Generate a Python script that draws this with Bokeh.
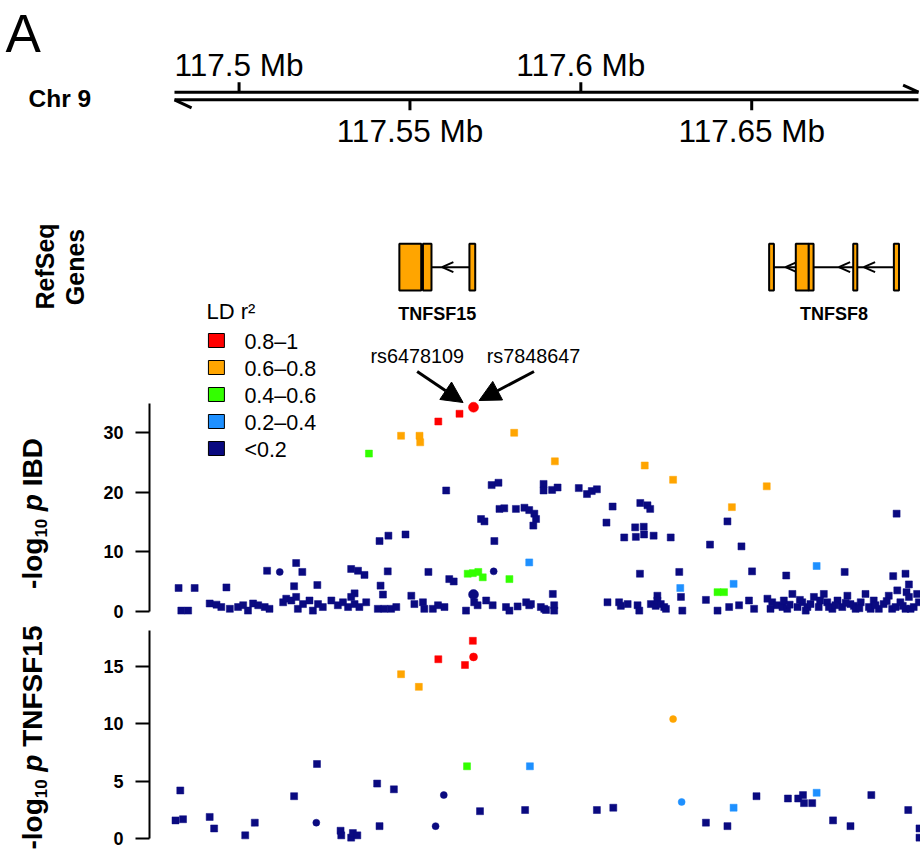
import numpy as np
from bokeh.plotting import figure
from bokeh.models import Range1d, FixedTicker, Arrow, NormalHead
from bokeh.layouts import row, column
from bokeh.core.properties import value
from bokeh.embed import file_html
from bokeh.resources import INLINE

FONT = "Liberation Sans"
K = 0.30      # baseline correction (fraction of font size)

# ---------------- data ----------------
chr_name = "Chr 9"
region_start, region_end = 117.4811, 117.6988
chr_ticks = [117.50, 117.55, 117.60, 117.65]
chr_tick_labels = ["117.5 Mb", "117.55 Mb", "117.6 Mb", "117.65 Mb"]

genes = ["TNFSF15", "TNFSF8"]
gene_start = [117.5469, 117.6551]
gene_end = [117.5691, 117.6931]
exons_TNFSF15 = [(117.5469, 117.5533), (117.5538, 117.5563), (117.5674, 117.5691)]
exons_TNFSF8 = [(117.6551, 117.6565), (117.6629, 117.6667), (117.6667, 117.6681),
                (117.6797, 117.6809), (117.6916, 117.6931)]
strand_marks_TNFSF15 = [117.5594]
strand_marks_TNFSF8 = [117.6599, 117.6755, 117.6828]

ld_labels = ["0.8–1", "0.6–0.8", "0.4–0.6", "0.2–0.4", "<0.2"]
ld_colors = ["#FF0000", "#FFA500", "#33FF00", "#1E90FF", "#0A0A80"]

snp_labels = ["rs6478109", "rs7848647"]
lead_snp_pos = 117.5686

# IBD association (-log10 p), by LD bin: (position Mb, -log10 p)
ibd_ld08 = [(117.5583, 31.9), (117.5645, 33.2), (117.5686, 34.3)]
ibd_ld06 = [(117.5474, 29.5), (117.5528, 29.5), (117.5530, 28.4), (117.5805, 30.0),
            (117.5924, 25.2), (117.6187, 24.5), (117.6270, 22.1), (117.6544, 21.0),
            (117.6442, 17.5)]
ibd_ld04 = [(117.5380, 26.5), (117.5669, 6.3), (117.5684, 6.4), (117.5700, 6.6),
            (117.5713, 5.7), (117.5791, 5.4), (117.6400, 3.2), (117.6419, 3.2)]
ibd_ld02 = [(117.5849, 8.2), (117.6291, 3.9), (117.6690, 7.6), (117.6447, 4.6)]
ibd_ld00 = [
    (117.5606, 20.3), (117.5739, 21.2), (117.5759, 21.6), (117.5891, 21.4), (117.5891, 20.3),
    (117.5916, 20.4), (117.5932, 20.8), (117.5994, 20.7), (117.6018, 19.7), (117.6032, 20.2),
    (117.6047, 20.5), (117.5762, 17.2), (117.5776, 17.3), (117.5810, 17.2), (117.5835, 17.4),
    (117.5849, 17.0), (117.5864, 16.4), (117.5869, 15.5), (117.5861, 14.4), (117.5708, 15.5),
    (117.5718, 15.1), (117.5411, 11.8), (117.5437, 12.7), (117.5487, 12.9), (117.5747, 11.8),
    (117.6093, 17.6), (117.6174, 18.2), (117.6195, 17.8), (117.6203, 17.2), (117.6075, 14.9),
    (117.6159, 14.1), (117.6184, 14.2), (117.6127, 12.4), (117.6161, 12.5), (117.6185, 12.9),
    (117.6213, 12.7), (117.6263, 12.4), (117.6429, 15.1), (117.6378, 11.2), (117.6470, 10.9),
    (117.6924, 16.4),
    (117.5082, 6.8), (117.5119, 6.6), (117.5167, 8.1), (117.5185, 6.6), (117.5328, 7.1),
    (117.5348, 6.8), (117.5367, 6.1), (117.5435, 6.7), (117.5554, 6.6), (117.5615, 5.4),
    (117.5628, 5.0), (117.5745, 6.7), (117.6173, 6.3), (117.6288, 6.6), (117.6501, 6.7),
    (117.6601, 6.0), (117.6772, 6.6), (117.6914, 5.9), (117.6950, 6.3), (117.6960, 4.5),
    (117.4823, 3.9), (117.4870, 3.9), (117.4963, 4.0), (117.5161, 4.2), (117.5229, 4.4),
    (117.5414, 4.3), (117.5421, 2.8), (117.5504, 2.6), (117.5686, 2.8), (117.5338, 3.0),
    (117.5918, 2.9), (117.6293, 2.4), (117.6366, 1.9), (117.6297, 0.1), (117.6224, 2.6),
    (117.6953, 3.2), (117.6984, 2.9), (117.6492, 1.8),
    (117.4831, 0.1), (117.4851, 0.1), (117.4914, 1.3), (117.4934, 1.1), (117.4948, 0.7),
    (117.4973, 0.4), (117.4997, 0.7), (117.5012, 1.0), (117.5026, 0.1), (117.5041, 1.3),
    (117.5056, 1.0), (117.5075, 0.7), (117.5089, 0.4), (117.5129, 1.5), (117.5138, 2.1),
    (117.5153, 1.8), (117.5167, 2.4), (117.5172, 0.4), (117.5187, 1.2), (117.5206, 1.8),
    (117.5216, 0.1), (117.5231, 1.2), (117.5245, 0.7), (117.5270, 1.8), (117.5289, 1.0),
    (117.5304, 1.5), (117.5319, 0.7), (117.5328, 2.4), (117.5338, 1.2), (117.5352, 0.7),
    (117.5372, 1.5), (117.5406, 0.4), (117.5425, 0.4), (117.5445, 0.4), (117.5460, 0.7),
    (117.5513, 1.2), (117.5538, 1.5), (117.5542, 0.4), (117.5567, 0.4), (117.5582, 1.0),
    (117.5601, 0.7), (117.5664, 0.1), (117.5688, 1.5), (117.5698, 1.0), (117.5723, 1.8),
    (117.5742, 1.0), (117.5781, 0.7), (117.5791, 0.1), (117.5815, 0.8), (117.5840, 1.5),
    (117.5849, 1.0), (117.5854, 1.2), (117.5883, 0.7), (117.5893, 0.4), (117.5898, 0.2),
    (117.5922, 1.0), (117.5922, 0.1), (117.6078, 1.5), (117.6112, 1.5), (117.6117, 0.9),
    (117.6137, 1.2), (117.6166, 1.0), (117.6171, 0.1), (117.6205, 1.2), (117.6219, 0.9),
    (117.6224, 1.8), (117.6234, 1.2), (117.6244, 0.7), (117.6249, 0.4),
    (117.6400, 0.1), (117.6434, 0.7), (117.6463, 1.0), (117.6507, 0.4), (117.6546, 2.1),
    (117.6555, 0.4), (117.6560, 1.5), (117.6575, 1.0), (117.6590, 0.7), (117.6594, 1.8),
    (117.6604, 0.4), (117.6619, 2.9), (117.6634, 0.7), (117.6648, 1.5), (117.6658, 0.1),
    (117.6663, 0.7), (117.6672, 1.2), (117.6682, 2.4), (117.6696, 0.7), (117.6711, 2.9),
    (117.6721, 1.5), (117.6726, 0.7), (117.6736, 0.4), (117.6751, 1.8), (117.6765, 0.7),
    (117.6780, 2.6), (117.6789, 1.2), (117.6799, 0.9), (117.6804, 0.4), (117.6819, 1.5),
    (117.6833, 2.9), (117.6843, 0.7), (117.6848, 0.4), (117.6857, 1.8), (117.6872, 0.4),
    (117.6886, 1.2), (117.6901, 2.6), (117.6911, 0.4), (117.6921, 0.7), (117.6926, 3.5),
    (117.6935, 1.5), (117.6950, 0.4), (117.6960, 2.4), (117.6965, 0.4), (117.6974, 0.7),
    (117.6989, 1.5), (117.6611, 1.1), (117.6641, 1.9), (117.6700, 1.8), (117.6745, 1.0),
    (117.6775, 1.4), (117.6815, 0.5), (117.6862, 1.0), (117.6895, 1.7), (117.6942, 0.9),
]

# TNFSF15 expression association (-log10 p)
tnf_ld08 = [(117.5684, 17.2), (117.5583, 15.6), (117.5661, 15.1), (117.5686, 15.8)]
tnf_ld06 = [(117.5474, 14.3), (117.5526, 13.2), (117.6270, 10.4)]
tnf_ld04 = [(117.5667, 6.3)]
tnf_ld02 = [(117.5851, 6.3), (117.6295, 3.2), (117.6447, 2.7), (117.6690, 4.0)]
tnf_ld00 = [
    (117.4828, 4.2), (117.4814, 1.6), (117.4836, 1.7), (117.4914, 1.9), (117.4927, 0.9),
    (117.5018, 0.3), (117.5046, 1.4), (117.5161, 3.7), (117.5228, 6.5), (117.5226, 1.4),
    (117.5297, 0.7), (117.5299, 0.3), (117.5328, 0.1), (117.5333, 0.5), (117.5346, 0.3),
    (117.5404, 4.8), (117.5411, 1.1), (117.5453, 4.3), (117.5575, 1.1), (117.5599, 3.8),
    (117.5705, 2.4), (117.5837, 2.5), (117.6047, 2.5), (117.6095, 2.7), (117.6366, 1.4),
    (117.6429, 1.1), (117.6514, 3.7), (117.6606, 3.5), (117.6636, 3.5), (117.6650, 3.8),
    (117.6653, 3.1), (117.6677, 3.1), (117.6738, 1.6), (117.6789, 1.1), (117.6850, 3.8),
    (117.6958, 2.5), (117.6991, 0.9), (117.6991, 0.1),
]
round_ibd = [117.5686, 117.5119, 117.5745]
round_tnf = [117.5686, 117.5226, 117.5575, 117.5599, 117.6270, 117.6295]

ibd_ticks = [0, 10, 20, 30]
tnf_ticks = [0, 5, 10, 15]

# ---------------- layout geometry (page px) ----------------
LW = 100                      # left label strip width
BL = 48                       # left border of the panels (y-axis room)
PW = 820                      # width of right column
XR0, XR1 = LW + BL, LW + PW   # frame left/right in page px
xr = Range1d(117.47379, 117.69939)
T_H, I_H, N_H = 330, 295, 225


def make_fig(w, h, x_range, y_range, left=0, yaxis=False):
    p = figure(width=w, height=h, x_range=x_range, y_range=y_range,
               output_backend="svg", toolbar_location=None,
               x_axis_location=None, y_axis_location=("left" if yaxis else None),
               min_border_left=left, min_border_right=0,
               min_border_top=0, min_border_bottom=0)
    p.outline_line_color = None
    p.xgrid.visible = False
    p.ygrid.visible = False
    p.background_fill_color = "white"
    p.border_fill_color = "white"
    return p


def style_axis(p, ticks, bounds):
    ax = p.yaxis[0]
    ax.ticker = FixedTicker(ticks=ticks)
    ax.bounds = bounds
    ax.major_tick_out = 14
    ax.major_tick_in = 0
    ax.minor_tick_out = 0
    ax.minor_tick_in = 0
    ax.axis_line_width = 2
    ax.major_tick_line_width = 2
    ax.axis_line_color = "black"
    ax.major_tick_line_color = "black"
    ax.major_label_text_font = FONT
    ax.major_label_text_font_style = "bold"
    ax.major_label_text_font_size = "18px"
    ax.major_label_text_color = "black"
    ax.major_label_standoff = 12


def texts(p, xs, ys, ts, size, style="normal", align="left", angle=0.0, **kw):
    # baseline given in page px (y grows downward in every layout range used here)
    if angle:
        xs = [x - K * size for x in xs]
    else:
        ys = [y - K * size for y in ys]
    p.text(x=xs, y=ys, text=ts, text_font=value(FONT), text_font_size=f"{size:.1f}px",
           text_font_style=style, text_align=align, text_baseline="alphabetic",
           text_color="black", angle=angle, **kw)


def txt(p, x, y, t, size, style="normal", align="left", angle=0.0, **kw):
    texts(p, [x], [y], [t], size, style, align, angle, **kw)


# ---------------- left label strip ----------------
L = make_fig(LW, T_H + I_H + N_H, Range1d(0, LW), Range1d(T_H + I_H + N_H, 0))
txt(L, 5, 49, "A", 53)
txt(L, 28, 105, chr_name, 24.5, "bold")
txt(L, 52, 266, "RefSeq", 25, "bold", "center", np.pi / 2)
txt(L, 82, 266.5, "Genes", 25, "bold", "center", np.pi / 2)

BW = {'-': 333, 'l': 278, 'o': 611, 'g': 611, '1': 556, '0': 556, ' ': 278, 'p': 611,
      'I': 278, 'B': 722, 'D': 722, 'T': 611, 'N': 722, 'F': 611, 'S': 667, '5': 556}


def ylab(p, rest, cy, bx, f):
    pieces = [("-log", f, "bold", 0.0, 0.0), ("10", f * 0.6, "bold", f * 0.2, 0.278 * f),
              ("p", f, "bold italic", 0.0, 0.278 * f), (rest, f, "bold", 0.0, 0.0)]
    widths = [sum(BW[c] for c in t) / 1000 * sz + gap for t, sz, _, _, gap in pieces]
    y = cy + sum(widths) / 2
    for (t, sz, st, off, gap), w in zip(pieces, widths):
        txt(p, bx + off, y, t, sz, st, "left", np.pi / 2)
        y -= w


ylab(L, "IBD", 513, 40, 28)
ylab(L, "TNFSF15", 737, 40, 28)

# ---------------- top track: chromosome + genes ----------------
T = make_fig(PW, T_H, xr, Range1d(T_H, 0), left=BL)
T.extra_x_ranges = {"lx": Range1d(XR0, XR1)}
CH_TOP, CH_BOT = 91.7, 99.3
T.segment(x0=[region_start] * 2, x1=[region_end] * 2, y0=[CH_TOP, CH_BOT], y1=[CH_TOP, CH_BOT],
          line_width=3, line_color="black")
T.segment(x0=[region_start, region_end], y0=[CH_BOT, CH_TOP],
          x1=[region_start + 0.0050, region_end - 0.0045], y1=[CH_BOT + 8, CH_TOP - 7],
          line_width=3, line_color="black")
up = [i % 2 == 0 for i in range(len(chr_ticks))]
T.segment(x0=chr_ticks, x1=chr_ticks,
          y0=[CH_TOP if u else CH_BOT for u in up],
          y1=[CH_TOP - 10 if u else CH_BOT + 10.5 for u in up],
          line_width=3, line_color="black")
texts(T, chr_ticks, [74 if u else 140 for u in up], chr_tick_labels, 31.5, align="center")

EX_TOP, EX_BOT, IN_Y = 243.3, 290.0, 266.7
T.segment(x0=gene_start, x1=gene_end, y0=[IN_Y] * 2, y1=[IN_Y] * 2,
          line_width=2, line_color="black")
chev = strand_marks_TNFSF15 + strand_marks_TNFSF8
CDX = 0.0033
T.segment(x0=chev + chev, y0=[IN_Y] * (2 * len(chev)),
          x1=[c + CDX for c in chev] * 2,
          y1=[IN_Y - 5] * len(chev) + [IN_Y + 5] * len(chev),
          line_width=2, line_color="black")
for ex in (exons_TNFSF15, exons_TNFSF8):
    T.quad(left=[a for a, b in ex], right=[b for a, b in ex],
           top=[EX_TOP] * len(ex), bottom=[EX_BOT] * len(ex),
           fill_color="#FFA500", line_color="black", line_width=2)
texts(T, [(a + b) / 2 for a, b in zip(gene_start, gene_end)], [319] * 2, genes, 18,
      "bold", "center")
txt(T, 205, 317.5, "LD r²", 22, x_range_name="lx")

# ---------------- IBD panel ----------------
I_Y0, I_PX = 610.7, 5.947
I_TOP, I_BOT = T_H, T_H + I_H
I = make_fig(PW, I_H, xr, Range1d((I_Y0 - I_BOT) / I_PX, (I_Y0 - I_TOP) / I_PX),
             left=BL, yaxis=True)
I.extra_x_ranges = {"lx": Range1d(XR0, XR1)}
I.extra_y_ranges = {"ly": Range1d(I_BOT, I_TOP)}
style_axis(I, ibd_ticks, (0, 35))


def draw_panel(p, classes, rounds, lead_size):
    for pts, col in classes:
        isr = [any(abs(a - r) < 5e-5 for r in rounds) for a, b in pts]
        sq = [pt for pt, r in zip(pts, isr) if not r]
        rd = [pt for pt, r in zip(pts, isr) if r]
        if sq:
            p.scatter([a for a, b in sq], [b for a, b in sq], marker="square", size=7,
                      fill_color=col, line_color=col, line_width=0.5)
        if rd:
            sz = [lead_size if abs(a - lead_snp_pos) < 5e-5 else 7 for a, b in rd]
            p.scatter([a for a, b in rd], [b for a, b in rd], marker="circle", size=sz,
                      fill_color=col, line_color=col, line_width=0.5)


draw_panel(I, [(ibd_ld00, ld_colors[4]), (ibd_ld02, ld_colors[3]), (ibd_ld04, ld_colors[2]),
               (ibd_ld06, ld_colors[1]), (ibd_ld08, ld_colors[0])], round_ibd, 10)

LG_Y0, LG_DY = 340, 27
cy = [LG_Y0 + i * LG_DY for i in range(len(ld_labels))]
I.quad(left=[207] * 5, right=[223] * 5, top=[c - 7 for c in cy], bottom=[c + 7 for c in cy],
       fill_color=ld_colors, line_color="black", line_width=1,
       x_range_name="lx", y_range_name="ly")
texts(I, [243] * 5, [c + 8 for c in cy], ld_labels, 21.5,
      x_range_name="lx", y_range_name="ly")
texts(I, [416, 532.5], [361, 361], snp_labels, 19.8, align="center",
      x_range_name="lx", y_range_name="ly")
for x0, y0, x1, y1 in [(416, 371, 462, 402), (533, 371, 478, 400)]:
    I.add_layout(Arrow(end=NormalHead(size=21, fill_color="black", line_color="black",
                                      line_width=1),
                       x_start=x0, y_start=y0, x_end=x1, y_end=y1,
                       x_range_name="lx", y_range_name="ly",
                       line_width=3, line_color="black"))

# ---------------- TNFSF15 eQTL panel ----------------
N_Y0, N_PX = 838.3, 11.51
N_TOP, N_BOT = T_H + I_H, T_H + I_H + N_H
N = make_fig(PW, N_H, xr, Range1d((N_Y0 - N_BOT) / N_PX, (N_Y0 - N_TOP) / N_PX),
             left=BL, yaxis=True)
style_axis(N, tnf_ticks, (0, 18.1))
draw_panel(N, [(tnf_ld00, ld_colors[4]), (tnf_ld02, ld_colors[3]), (tnf_ld04, ld_colors[2]),
               (tnf_ld06, ld_colors[1]), (tnf_ld08, ld_colors[0])], round_tnf, 8)

layout = row(L, column(T, I, N, spacing=0), spacing=0)
open("out.html", "w").write(file_html(layout, INLINE))
